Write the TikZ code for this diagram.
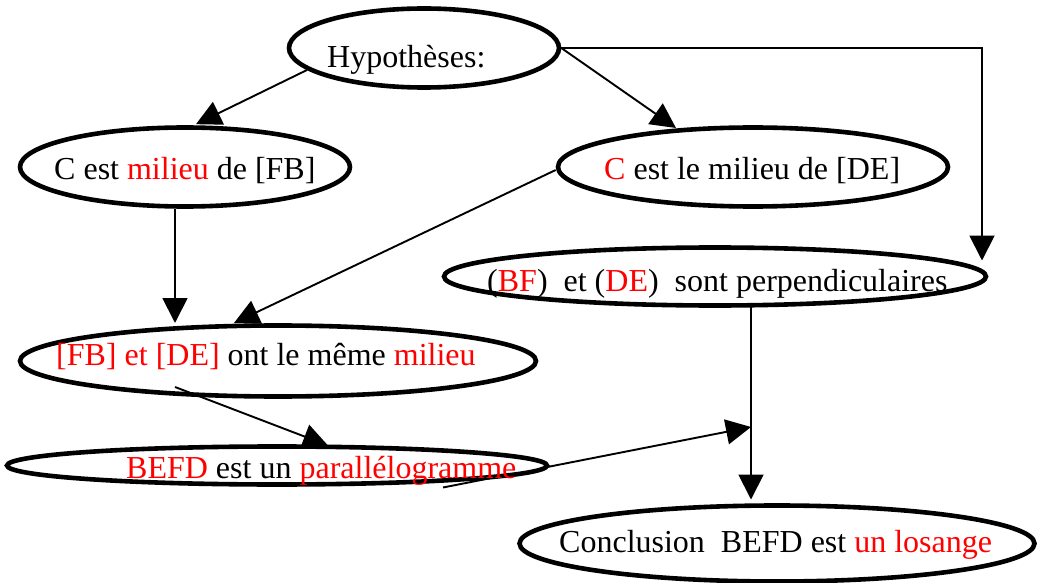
\documentclass[tikz,border=0pt]{standalone}
\usepackage{fontspec}
\setmainfont{Liberation Serif}
\usetikzlibrary{shapes.geometric,arrows.meta,calc,backgrounds}
\definecolor{rd}{RGB}{255,0,0}
\begin{document}
\begin{tikzpicture}[x=1pt,y=-1pt,
  ell/.style={ellipse, draw=black, line width=4.6pt, fill=white, inner sep=0pt},
  txt/.style={anchor=base west, inner sep=0pt, font=\fontsize{32}{38}\selectfont},
  conn/.style={line width=1.9pt, -{Triangle[length=25pt,width=25pt]}}]
\useasboundingbox (0,0) rectangle (1037,583);
% ellipses
\node[ell, minimum width=270pt, minimum height=79pt] (hyp) at (424,48) {};
\node[ell, minimum width=330pt, minimum height=79pt] (cfb) at (185,167) {};
\node[ell, minimum width=390pt, minimum height=79pt] (cde) at (753,167) {};
\node[ell, minimum width=542pt, minimum height=58pt] (perp) at (715,276.5) {};
\node[ell, minimum width=516pt, minimum height=71pt] (fbde) at (278,361) {};
\node[ell, minimum width=540pt, minimum height=38pt] (befd) at (277,465.5) {};
\node[ell, minimum width=515pt, minimum height=76pt] (concl) at (777,543.5) {};
% texts
\node[txt] (hypt) at (327,68) {Hypothèses:};
\node[txt] (cfbt) at (54,180) {C est \textcolor{rd}{milieu} de [FB]};
\node[txt] (cdet) at (604,180) {\textcolor{rd}{C} est le milieu de [DE]};
\node[txt] (perpt) at (487,291) {(\textcolor{rd}{BF})\ \ et (\textcolor{rd}{DE})\ \ sont perpendiculaires};
\node[txt] (fbdet) at (56,365) {\textcolor{rd}{[FB] et [DE]} ont le même \textcolor{rd}{milieu}};
\node[txt] (befdt) at (126,478) {\textcolor{rd}{BEFD} est un \textcolor{rd}{parallélogramme}};
\node[txt] (conclt) at (559,552) {Conclusion\ \ BEFD est \textcolor{rd}{un losange}};
% connector drawn over its source ellipse
\draw[conn] ($(fbde.center)+(-103,26)$) -- ($(befd.center)+(51,-20)$);
% connectors behind the ellipses
\begin{pgfonlayer}{background}
\coordinate (join) at (751,427);
\draw[conn] ($(hyp.center)+(-117,22)$) -- ($(cfb.north)+(11,-1)$);
\draw[conn] (hyp.east) -- ($(cde.center)+(-77,-39)$);
\draw[conn] ($(cde.west)+(0,3)$) -- ($(fbde.center)+(-44,-38)$);
\draw[conn] ($(cfb.south)+(-10,0)$) -- ($(fbde.center)+(-103,-38)$);
\draw[conn] ($(befd.center)+(166,22)$) -- (join);
\draw[conn] (hyp.east) -| ($(perp.center)+(267,-16)$);
\draw[conn] ($(perp.center)+(36,30)$) -- ($(concl.center)+(-26,-44)$);
\end{pgfonlayer}
\end{tikzpicture}
\end{document}
